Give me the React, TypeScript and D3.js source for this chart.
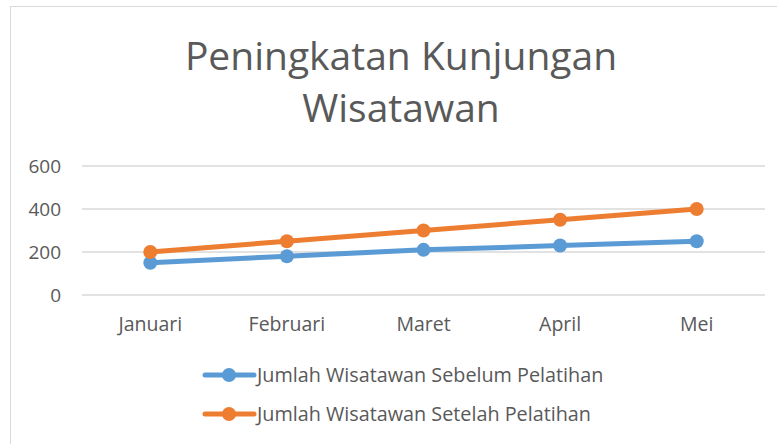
import React from "react";
import * as d3 from "d3";

const categories = ["Januari", "Februari", "Maret", "April", "Mei"];
const sebelum = [150, 180, 210, 230, 250];
const setelah = [200, 250, 300, 350, 400];
const yTicks = [0, 200, 400, 600];
const seriesNames = ["Jumlah Wisatawan Sebelum Pelatihan", "Jumlah Wisatawan Setelah Pelatihan"];
const titleLines = ["Peningkatan Kunjungan", "Wisatawan"];

const colors = ["#5B9BD5", "#ED7D31"];
const textColor = "#595959";
const font = "'Open Sans', sans-serif";

export default function App() {
  const W = 777, H = 444;
  const x = d3.scaleBand<string>().domain(categories).range([82, 765]).padding(0);
  const xc = (c: string) => (x(c) ?? 0) + x.bandwidth() / 2;
  const y = d3.scaleLinear().domain([0, 600]).range([295, 166]);
  const series = [sebelum, setelah];
  const line = d3.line<number>().x((_, i) => xc(categories[i])).y((v) => y(v));

  return (
    <svg width={W} height={H} style={{ position: "absolute", left: 0, top: 0, background: "#fff" }}>
      <rect x={0} y={0} width={W} height={H} fill="#fff" />
      <rect x={10.5} y={6.5} width={W + 10} height={H + 10} fill="#fff" stroke="#D9D9D9" strokeWidth={1} />
      {titleLines.map((t, i) => (
        <text key={t} x={401} y={70 + i * 52} textAnchor="middle" fontFamily={font} fontSize={39} fill={textColor}>
          {t}
        </text>
      ))}
      {yTicks.map((t) => (
        <g key={t}>
          <line x1={82} x2={765} y1={y(t)} y2={y(t)} stroke="#D9D9D9" strokeWidth={1.3} />
          <text x={61} y={y(t) + 7} textAnchor="end" fontFamily={font} fontSize={19} fill={textColor}>
            {t}
          </text>
        </g>
      ))}
      {categories.map((c) => (
        <text key={c} x={xc(c)} y={331} textAnchor="middle" fontFamily={font} fontSize={19.5} fill={textColor}>
          {c}
        </text>
      ))}
      {series.map((s, si) => (
        <g key={si}>
          <path d={line(s) ?? ""} fill="none" stroke={colors[si]} strokeWidth={5} strokeLinecap="round" />
          {s.map((v, i) => (
            <circle key={i} cx={xc(categories[i])} cy={y(v)} r={7} fill={colors[si]} />
          ))}
        </g>
      ))}
      {seriesNames.map((n, i) => {
        const ly = 375 + i * 39;
        return (
          <g key={n}>
            <line x1={205} x2={254} y1={ly} y2={ly} stroke={colors[i]} strokeWidth={5} strokeLinecap="round" />
            <circle cx={229} cy={ly} r={7} fill={colors[i]} />
            <text x={257} y={ly + 7} fontFamily={font} fontSize={19.8} fill={textColor}>
              {n}
            </text>
          </g>
        );
      })}
    </svg>
  );
}
